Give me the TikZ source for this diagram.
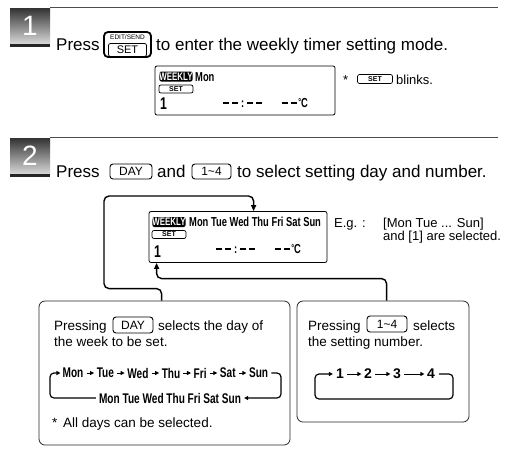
\documentclass[tikz,border=0pt]{standalone}
\usepackage{fontspec}
\setmainfont{Liberation Sans}
\newfontfamily\lcdfont[FakeStretch=0.72]{Liberation Sans}
\usetikzlibrary{positioning, arrows.meta}

\definecolor{rulegray}{gray}{0.3}
\newcommand\lcddash{\rule[3.5pt]{6pt}{1.8pt}}
\newcommand\lcdtime{\lcddash\hspace{3pt}\lcddash\hspace{3pt}:\hspace{3pt}\lcddash\hspace{3pt}\lcddash\hspace{20pt}\lcddash\hspace{3pt}\lcddash\hspace{1pt}\raisebox{2pt}{\fontsize{10}{10}\selectfont°}C}

\begin{document}
\begin{tikzpicture}[x=1pt, y=-1pt,
  txt/.style={anchor=base west, inner sep=0pt, font=\fontsize{17}{20}\selectfont},
  boxtxt/.style={anchor=base west, inner sep=0pt, font=\fontsize{13.5}{16}\selectfont},
  egtxt/.style={anchor=base west, inner sep=0pt, font=\fontsize{13}{15}\selectfont},
  keybox/.style={draw, rounded corners=3pt, line width=0.9pt, inner sep=0pt, font=\fontsize{12}{12}\selectfont},
  lcd/.style={draw, rounded corners=2pt, line width=0.8pt, inner sep=0pt},
  lcdtxt/.style={anchor=base west, inner sep=0pt, font=\lcdfont\bfseries\fontsize{13}{13}\selectfont},
  lcdone/.style={anchor=base west, inner sep=0pt, font=\lcdfont\bfseries\fontsize{17}{17}\selectfont},
  weekly/.style={fill=black, text=white, rounded corners=2pt, inner sep=0pt, minimum width=33pt, minimum height=10pt, font=\lcdfont\bfseries\fontsize{11}{11}\selectfont},
  setmark/.style={draw, rounded corners=2pt, line width=0.7pt, inner sep=0pt, minimum width=34pt, minimum height=8pt, font=\bfseries\fontsize{7}{7}\selectfont},
  panel/.style={draw=black!85, rounded corners=6pt, line width=0.8pt},
  loopline/.style={line width=1.4pt, rounded corners=5pt, -{Triangle[length=6pt,width=5pt]}},
  cycleline/.style={line width=1.2pt, rounded corners=4pt, -{Triangle[length=4pt,width=4pt]}},
  dayword/.style={inner sep=0pt, font=\lcdfont\bfseries\fontsize{14}{14}\selectfont},
  numword/.style={inner sep=0pt, font=\bfseries\fontsize{14}{14}\selectfont},
  dayarrow/.style={line width=0.9pt, shorten <=3pt, shorten >=2.5pt, -{Triangle[length=4pt,width=4pt]}},
  badgenum/.style={inner sep=0pt, text=white, font=\fontsize{28}{28}\selectfont}]

\useasboundingbox (0,0) rectangle (510,456);

% step 1
\shade[top color=black!80, bottom color=black!15] (10,8) rectangle (50,44);
\fill[black!85] (10,44) rectangle (50,47);
\node[badgenum] (numA) at (30,26) {1};
\draw[rulegray, line width=0.8pt] (50,7) -- (498,7);

\node[txt] (pressA) at (56,50) {Press};
\node[draw, line width=1.8pt, rounded corners=4pt, minimum width=47pt, minimum height=25pt, inner sep=0pt] (setKey) at (127.5,44.5) {};
\node[inner sep=0pt, font=\fontsize{6.5}{6.5}\selectfont] (editSend) at (127.5,37) {EDIT/SEND};
\node[draw, rounded corners=2pt, line width=0.8pt, minimum width=38pt, minimum height=13pt, inner sep=0pt, font=\fontsize{11}{11}\selectfont] (setLabel) at (127.5,50) {SET};
\node[txt] (textA) at (156,50) {to enter the weekly timer setting mode.};

\node[lcd, minimum width=180pt, minimum height=49pt] (lcdA) at (245,90.5) {};
\node[weekly] (wkA) at (176,76.5) {WEEKLY};
\node[lcdtxt] (monA) at (195,81) {Mon};
\node[setmark] (setA) at (176,89) {SET};
\node[lcdone] (oneA) at (160,109) {1};
\node[lcdtxt] (timeA) at (223,107) {\lcdtime};

\node[egtxt] (starA) at (343,84) {*};
\node[setmark, minimum width=35pt, minimum height=9pt] (setBlink) at (375,79) {SET};
\node[egtxt] (blinks) at (396,84) {blinks.};

% step 2
\shade[top color=black!80, bottom color=black!15] (10,138) rectangle (50,174);
\fill[black!85] (10,174) rectangle (50,177);
\node[badgenum] (numB) at (30,156) {2};
\draw[rulegray, line width=0.8pt] (50,137) -- (498,137);

\node[txt] (pressB) at (56,177) {Press};
\node[keybox, minimum width=42pt, minimum height=15pt] (dayKey) at (131,171.5) {DAY};
\node[txt] (andB) at (157,177) {and};
\node[keybox, minimum width=39pt, minimum height=15pt] (numKey) at (211.5,171.5) {1\textasciitilde 4};
\node[txt] (textB) at (237,177) {to select setting day and number.};

\node[lcd, minimum width=178pt, minimum height=51pt] (lcdB) at (238,237) {};
\node[weekly] (wkB) at (169,222) {WEEKLY};
\node[lcdtxt] (daysB) at (189,226.5) {Mon Tue Wed Thu Fri Sat Sun};
\node[setmark] (setB) at (169,234.5) {SET};
\node[lcdone] (oneB) at (154,257) {1};
\node[lcdtxt] (timeB) at (216,253) {\lcdtime};

\node[egtxt] (egA) at (334,227) {E.g. :};
\node[egtxt] (egB) at (383,227) {[Mon Tue ... Sun]};
\node[egtxt] (egC) at (383,240) {and [1] are selected.};

% panels
\node[panel, minimum width=251pt, minimum height=144pt] (dayPanel) at (164.5,373) {};
\node[panel, minimum width=172pt, minimum height=121pt] (numPanel) at (383,361.5) {};

\draw[loopline] ([xshift=123pt]dayPanel.north west) -- ++(0,-12) -| (104,196) -| ([xshift=105pt]lcdB.north west);
\draw[loopline] ([xshift=90pt]numPanel.north west) -- ++(0,-22) -| ([xshift=8pt]lcdB.south west);

% day panel
\node[boxtxt] (pressC) at (54,330) {Pressing};
\node[keybox, minimum width=40pt, minimum height=16pt] (dayKeyB) at (133,325) {DAY};
\node[boxtxt] (selC) at (158,330) {selects the day of};
\node[boxtxt] (weekC) at (54,346) {the week to be set.};

\node[dayword] (d1) at (73,373) {Mon};
\node[dayword, right=13pt of d1] (d2) {Tue};
\node[dayword, right=13pt of d2] (d3) {Wed};
\node[dayword, right=13pt of d3] (d4) {Thu};
\node[dayword, right=13pt of d4] (d5) {Fri};
\node[dayword, right=13pt of d5] (d6) {Sat};
\node[dayword, right=13pt of d6] (d7) {Sun};
\draw[dayarrow] (d1) -- (d2);
\draw[dayarrow] (d2) -- (d3);
\draw[dayarrow] (d3) -- (d4);
\draw[dayarrow] (d4) -- (d5);
\draw[dayarrow] (d5) -- (d6);
\draw[dayarrow] (d6) -- (d7);
\node[dayword] (dayAll) at (170,398) {Mon Tue Wed Thu Fri Sat Sun};
\draw[cycleline] ([xshift=3pt]d7.east) -| (281,398) -- ([xshift=3pt]dayAll.east);
\draw[cycleline] ([xshift=-3pt]dayAll.west) -| (50,373) -- ([xshift=-2pt]d1.west);

\node[boxtxt] (starC) at (52,427) {*};
\node[boxtxt] (allC) at (63,427) {All days can be selected.};

% number panel
\node[boxtxt] (pressD) at (308,330) {Pressing};
\node[keybox, minimum width=40pt, minimum height=16pt] (numKeyB) at (387,324) {1\textasciitilde 4};
\node[boxtxt] (selD) at (413,330) {selects};
\node[boxtxt] (numD) at (308,346) {the setting number.};

\node[numword] (n1) at (340,374) {1};
\node[numword] (n2) at (368,374) {2};
\node[numword] (n3) at (397,374) {3};
\node[numword] (n4) at (431,374) {4};
\draw[dayarrow] (n1) -- (n2);
\draw[dayarrow] (n2) -- (n3);
\draw[dayarrow] (n3) -- (n4);
\draw[cycleline] ([xshift=4pt]n4.east) -| (453,399) -| (315,374) -- ([xshift=-3pt]n1.west);
\end{tikzpicture}
\end{document}
